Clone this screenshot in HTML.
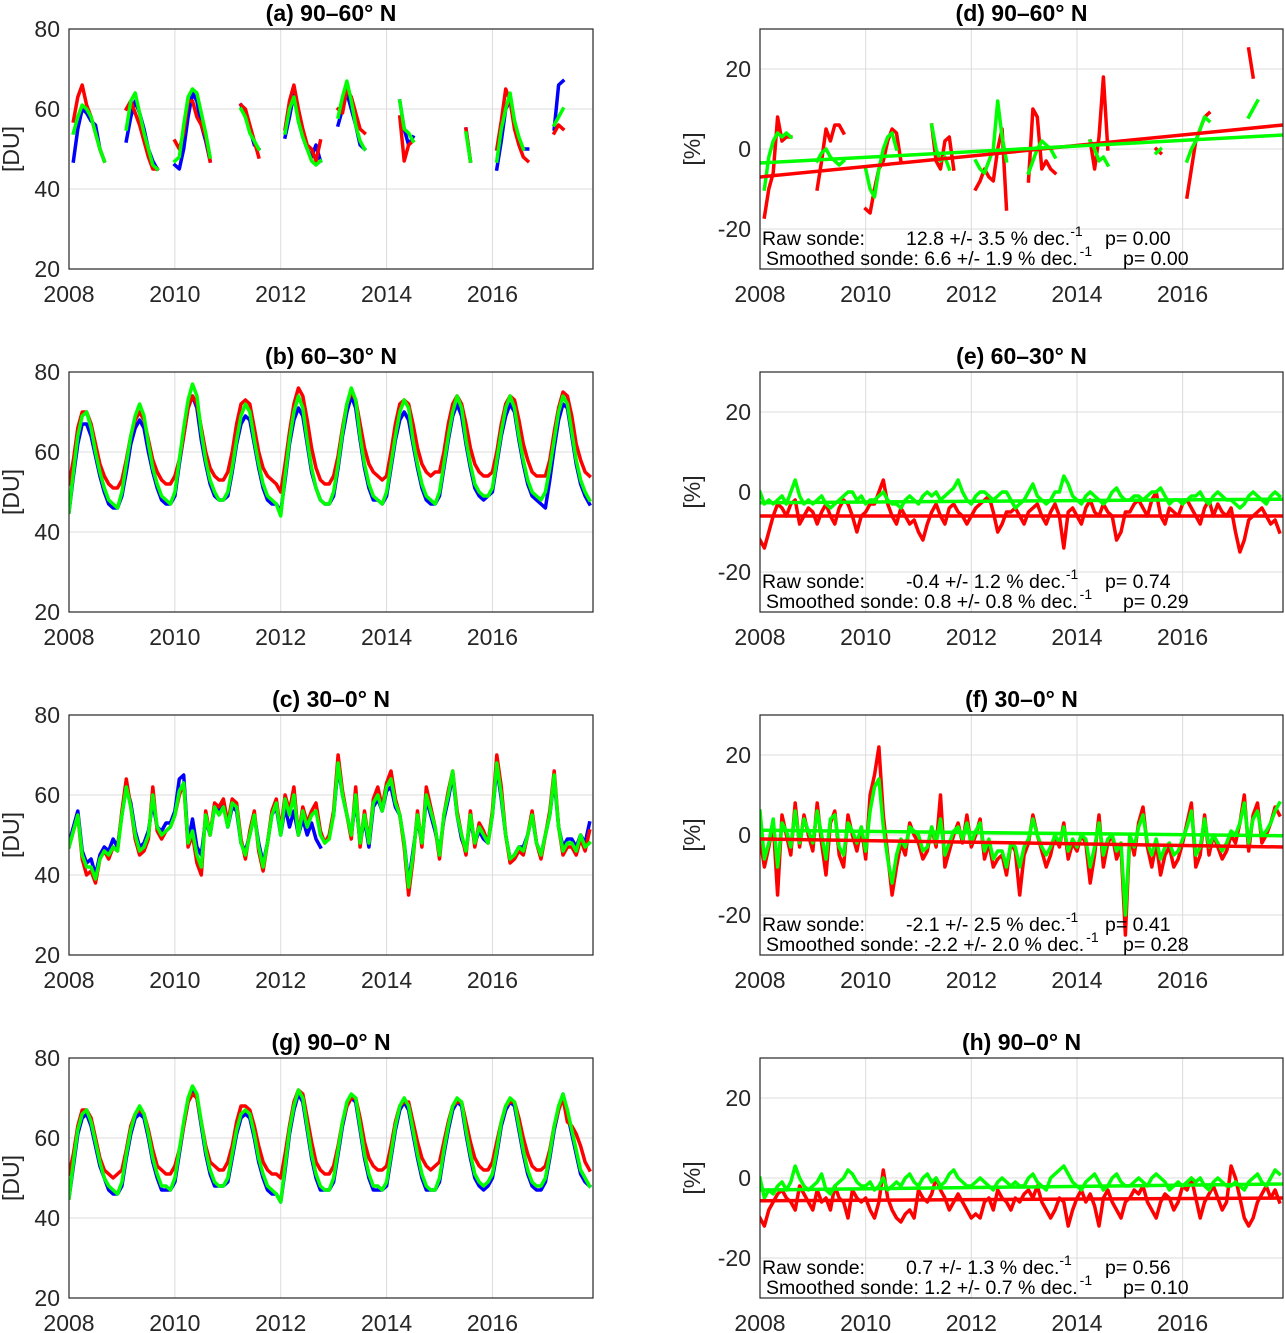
<!DOCTYPE html>
<html><head><meta charset="utf-8"><style>
body{margin:0;background:#fff}
svg{display:block;font-family:"Liberation Sans",Arial,sans-serif}
</style></head><body>
<svg id="fig" width="1285" height="1333" viewBox="0 0 1285 1333" xmlns="http://www.w3.org/2000/svg"></svg>
<script>
// ---- data (monthly, starting Jan 2008) ----
const years = [2008,2010,2012,2014,2016];
const duTicks = [20,40,60,80];
const pctTicks = [-20,0,20];
const N = null;
// panel a 90-60N
const aBlue = [N,47,55,60,59,57,56,50,47,N,N,N, N,52,58,62,59,55,50,47,45,N,N,N, 46,45,50,58,64,62,56,52,47,N,48,N, 47,N,N,61,58,55,51,50,N,N,N,N, N,53,58,64,57,53,50,48,51,47,N,N, N,56,60,64,60,56,51,50,N,N,N,N, N,N,N,62,55,51,53,N,N,N,N,N, N,N,N,N,N,N,55,47,N,N,N,N, N,45,52,60,62,57,52,50,50,N,N,N, N,N,55,66,67,N,N,N,N,N,N];
const aRed = [N,57,63,66,61,58,54,50,47,N,N,N, N,60,62,59,56,52,48,45,45,N,N,N, 52,50,54,62,62,58,56,53,47,N,52,N, 52,N,N,61,60,56,52,48,N,N,N,N, N,55,62,66,60,55,51,50,47,52,N,N, N,60,59,65,63,59,55,54,N,N,N,N, N,N,N,58,47,51,52,N,N,N,N,N, N,N,N,N,N,N,55,47,N,N,N,N, N,50,57,65,62,55,51,48,47,N,N,N, N,N,54,56,55,N,N,N,N,N,N];
const aGreen = [N,54,58,61,60,58,54,50,47,N,N,N, N,55,62,64,59,54,50,46,45,N,N,N, 47,48,56,63,65,64,59,54,48,N,45,N, 48,N,N,60,58,54,52,50,N,N,N,N, N,54,60,63,57,53,50,47,46,47,N,N, N,58,63,67,62,56,52,50,N,N,N,N, N,N,N,62,55,54,52,N,N,N,N,N, N,N,N,N,N,N,54,47,N,N,N,N, N,47,55,60,64,57,53,50,N,N,N,N, N,N,56,58,60,N,N,N,N,N,N];
// panel b 60-30N
const bBlue = [45,54,62,67,67,64,59,54,50,47,46,46, 49,55,62,66,68,66,60,55,51,48,47,47, 49,57,64,71,74,71,63,57,52,49,48,48, 49,55,62,67,69,68,62,56,51,48,47,47, 45,53,62,68,71,69,62,55,51,48,47,47, 49,56,64,70,74,71,63,56,51,48,48,47, 49,56,63,68,70,68,62,56,51,48,47,47, 49,56,63,69,72,69,62,56,51,49,48,49, 50,57,64,69,72,70,63,57,52,49,48,47, 46,53,61,68,72,71,64,57,52,49,47];
const bRed = [52,58,66,70,70,67,62,57,54,52,51,51, 53,58,64,68,70,68,63,58,55,53,52,52, 54,58,64,71,74,72,66,60,56,54,53,53, 55,60,67,72,73,72,66,60,56,54,53,52, 50,57,65,72,76,74,68,61,56,53,52,52, 54,59,66,72,75,73,67,61,57,55,54,53, 54,60,67,72,73,72,67,61,57,55,54,55, 55,60,67,72,74,72,67,61,57,55,54,54, 55,60,67,72,74,73,68,62,58,55,54,54, 54,58,65,71,75,74,69,62,58,55,54];
const bGreen = [45,55,64,69,70,66,60,55,51,48,47,46, 50,57,64,69,72,69,62,56,52,49,48,47, 50,58,66,73,77,74,65,58,53,50,48,48, 50,56,63,69,72,70,63,57,52,49,48,47, 44,54,63,70,74,71,63,56,51,48,47,47, 50,57,65,72,76,73,64,57,52,49,48,47, 50,57,64,70,73,71,63,57,52,49,48,47, 50,57,64,70,74,71,63,57,52,50,49,49, 51,58,65,71,74,71,64,58,53,50,49,48, 50,56,63,70,74,72,65,58,53,50,48];
// panel c 30-0N
const cBlue = [48,52,56,46,43,44,40,45,47,46,49,47, 55,62,58,51,47,48,51,58,52,51,53,53, 56,64,65,48,54,47,45,54,50,57,56,58, 52,57,56,48,46,50,55,48,43,48,55,57, 50,57,52,56,50,54,50,53,49,47,N,N, 55,67,60,55,50,59,48,54,47,57,59,56, 61,62,57,55,48,38,46,54,48,59,55,51, 46,54,59,65,55,49,46,54,48,51,49,48, 55,67,59,50,44,45,47,47,50,55,48,45, 50,55,64,52,47,49,49,47,50,48,53];
const cRed = [47,51,55,44,40,41,38,44,46,44,47,46, 56,64,57,49,45,46,49,62,51,49,51,52, 55,60,63,47,50,43,40,56,50,58,57,59, 53,59,58,49,44,51,56,46,41,48,56,59, 51,60,56,62,50,57,53,56,58,51,48,50, 56,70,61,55,49,62,47,56,48,59,62,57, 63,66,59,55,47,35,44,56,47,62,57,52, 44,55,61,66,56,50,45,56,47,53,51,48, 56,70,62,50,43,44,46,45,50,56,48,44, 50,56,66,52,45,47,47,45,49,46,51];
const cGreen = [47,51,55,45,42,42,39,44,46,45,47,46, 55,62,57,50,46,47,50,60,52,50,51,52, 55,61,63,48,51,45,42,55,50,57,55,57, 52,58,57,48,45,50,55,47,42,48,55,58, 50,59,55,60,50,56,52,55,56,50,48,49, 55,68,60,55,50,60,48,55,48,58,60,56, 62,64,58,55,48,37,45,55,48,60,56,52, 45,55,60,66,55,50,46,55,48,52,50,48, 55,68,60,50,44,45,47,46,50,55,48,45, 50,55,65,52,46,48,48,46,50,47,48];
// panel g 90-0N
const gBlue = [45,53,61,65,66,63,58,53,50,47,46,46, 48,55,61,65,66,65,60,54,50,47,47,47, 49,56,63,69,72,70,63,56,51,48,48,48, 49,55,61,65,66,65,60,54,50,47,46,46, 44,52,61,67,71,69,62,55,50,47,47,47, 49,56,63,68,70,69,62,55,50,47,47,47, 48,55,62,67,69,67,61,55,50,47,47,47, 49,56,62,67,69,68,61,55,50,48,47,48, 50,56,63,67,69,68,62,56,51,48,47,47, 49,55,62,67,71,66,61,56,51,49,48];
const gRed = [51,56,63,67,67,65,60,55,52,51,50,51, 52,57,63,66,67,66,62,57,53,52,51,51, 53,57,63,69,71,70,64,58,54,53,52,52, 54,58,64,68,68,67,63,58,54,52,51,51, 50,56,63,69,72,71,65,59,54,52,51,51, 53,58,64,68,70,70,65,59,55,53,52,52, 53,58,64,68,69,69,64,59,55,53,52,53, 54,59,64,68,69,69,64,59,55,53,52,52, 54,59,64,68,69,69,65,60,56,53,52,52, 53,57,63,67,70,64,63,61,58,54,52];
const gGreen = [45,54,62,66,67,64,59,54,50,48,47,46, 49,56,62,66,68,66,61,55,51,48,48,47, 50,57,64,70,73,71,64,57,52,49,48,48, 50,56,62,66,67,66,61,55,51,48,47,46, 44,53,62,68,72,70,63,56,51,48,47,47, 50,57,64,69,71,70,63,56,51,48,48,47, 49,56,63,68,70,68,62,56,51,48,47,47, 50,57,63,68,70,69,62,56,51,49,48,49, 51,57,64,68,70,69,63,57,52,49,48,48, 50,56,63,68,71,67,62,57,52,50,48];
// panel d (% diff, 90-60N)
const dRed = [N,-17,-10,-6,8,2,3,3,N,N,N,N, N,-10,-3,5,2,6,6,4,N,N,N,N, -15,-16,-10,-5,-3,2,5,4,-3,N,-6,N, 2,N,N,6,-3,-5,2,3,-5,N,N,N, N,-10,-8,-5,-7,-8,0,5,-15,N,N,N, N,-8,10,8,-5,-3,-5,-6,N,N,N,N, N,N,N,2,-5,3,18,0,N,N,N,N, N,N,N,N,N,N,0,-1,N,N,N,N, N,-12,-5,2,5,8,9,N,N,N,N,N, N,N,N,25,18,N,N,N,N,N,N];
const dGreen = [N,-10,-2,2,4,3,4,3,N,N,N,N, N,-3,-1,0,-2,-3,-4,-3,N,N,N,N, -5,-10,-12,-5,0,3,4,0,N,N,7,N, -5,N,N,6,0,-3,-2,-5,N,N,N,N, N,-3,-5,-6,-3,0,12,3,-3,N,N,N, N,-6,-3,0,2,1,0,-2,N,N,N,N, N,N,N,2,0,-3,-2,-4,N,N,N,N, N,N,N,N,N,N,-1,0,N,N,N,N, N,-3,0,2,5,8,7,N,N,N,N,N, N,N,N,8,10,12,N,N,N,N,N];
// panel e
const eRed = [-12,-14,-10,-6,-3,-4,-6,-3,-2,-8,-6,-4, -5,-8,-5,-3,-6,-8,-4,-2,-3,-6,-10,-6, -5,-3,-3,0,3,-3,-6,-8,-4,-6,-8,-7, -10,-12,-8,-5,-3,-6,-8,-4,-3,-5,-6,-8, -6,-4,-3,-2,-1,-5,-10,-8,-5,-5,-4,-6, -8,-5,-4,-3,-6,-8,-5,-3,-6,-14,-5,-4, -6,-8,-4,-2,-5,-6,-3,-5,-6,-12,-10,-5, -5,-3,-2,-4,-6,-2,0,-6,-8,-4,-5,-6, -3,-2,-4,-6,-8,-4,-2,-6,-3,-5,-6,-4, -10,-15,-12,-7,-6,-5,-4,-6,-8,-7,-10];
const eGreen = [0,-3,-2,-3,-2,-1,-3,0,3,-1,-3,-2, -3,-2,-1,-3,-4,-3,-2,-1,0,0,-2,-1, -3,-2,-2,-1,0,-2,-3,-3,-4,-2,-1,-2, -3,-1,0,-1,0,-2,-1,0,1,3,0,-2, -3,-1,0,0,-1,-2,-1,0,0,-2,-4,-3, -2,0,2,-1,-2,-3,-2,0,0,4,2,-1, -2,-3,-1,0,-1,-2,-3,-2,0,1,-1,-2, -2,-1,-1,-2,-1,0,0,1,-1,-3,-2,-2, -3,-2,-1,-1,0,-2,-3,-1,0,-1,-2,-2, -3,-4,-3,-1,0,-1,-2,-3,-1,0,-1];
// panel f
const fRed = [-1,-8,-3,3,-15,5,0,-5,8,-3,5,0, -4,8,-2,-10,3,6,-5,-8,5,0,-4,2, -6,10,15,22,5,-5,-15,-8,-2,-5,3,0, -2,-6,-4,2,-3,10,-8,-4,0,3,-2,5, -3,0,4,-6,-2,-8,-6,-5,-10,-2,-4,-15, -5,-2,5,0,-4,-8,-5,0,-3,3,-6,-2, -4,0,-2,-12,-5,5,-8,-2,0,-6,-3,-25, 0,-5,3,7,-3,-8,-2,-10,-5,-3,-8,-6, -2,3,8,-8,-5,5,-5,0,-3,-6,-4,0, -2,3,10,-4,5,8,-2,0,3,7,5];
const fGreen = [6,-6,-2,4,-8,3,1,-3,6,-2,4,1, -2,6,0,-6,4,5,-3,-5,3,1,-2,2, -4,6,12,14,2,-6,-12,-5,-1,-3,2,1, 0,-4,-3,2,-2,4,-5,-2,1,2,-1,3, -2,1,3,-4,-1,-6,-4,-4,-8,-2,-3,-8, -3,-1,4,0,-3,-5,-3,0,-2,2,-4,-1, -3,0,-1,-8,-3,3,-5,-1,0,-4,-2,-20, 0,-3,2,5,-2,-5,-1,-6,-3,-2,-5,-4, -1,2,6,-5,-3,4,-3,0,-2,-4,-2,1, 0,3,8,-2,4,6,0,1,3,6,8];
// panel h
const hRed = [-10,-12,-8,-6,-4,-3,-5,-6,-8,-2,-4,-6, -8,-3,-6,-5,-8,-2,-5,-6,-10,-3,-5,-6, -5,-8,-10,-6,2,-5,-8,-10,-11,-9,-8,-10, -3,-5,-6,-4,0,-3,-5,-8,-6,-4,-6,-8, -10,-9,-10,-6,-5,-8,-3,-5,-6,-8,-5,-6, -4,-3,-5,-2,-6,-8,-10,-8,-5,-6,-12,-8, -5,-3,-6,-4,-7,-12,-5,-3,-6,-8,-10,-6, -5,-3,-4,-2,-6,-8,-10,-6,-4,-5,-8,-6, -2,-3,0,-5,-10,-6,-4,-2,-5,-8,-6,3, 0,-5,-10,-12,-10,-6,-4,-2,-5,-3,-6];
const hGreen = [0,-5,-3,-4,-2,-1,-3,-1,3,0,-2,-3, -2,-1,1,-3,-4,-2,-1,0,2,1,-1,-2, -2,-1,-3,-2,0,-3,-2,-1,-2,0,1,-1, -2,0,1,-1,0,-2,-1,1,2,0,-1,-2, -2,-1,0,-1,-2,-3,-1,0,-1,-2,-1,-2, -2,0,1,-1,-2,-3,0,1,2,3,1,-1, -2,-3,-1,0,1,-1,-3,-2,0,1,-1,-2, -2,-1,0,-1,-2,0,1,0,-1,-3,-2,-1, -2,-1,0,-1,0,-2,-3,-1,0,-1,-2,-2, -1,-2,-3,-1,0,1,-1,-2,0,2,1];
// trend endpoints (at 2008.0 and 2017.9)
const dTrendRed = [-7,6], dTrendGreen = [-3.5,3.5];
const eTrendRed = [-6,-6], eTrendGreen = [-2.7,-1.8];
const fTrendRed = [-1,-3], fTrendGreen = [1.2,-0.2];
const hTrendRed = [-5.7,-5], hTrendGreen = [-3,-1.5];

// ---- drawing ----
const svg = document.getElementById('fig');
const NS = 'http://www.w3.org/2000/svg';
const X0 = 2008, X1 = 2017.9;
function mk(tag, attrs, parent){const e=document.createElementNS(NS,tag);for(const k in attrs)e.setAttribute(k,attrs[k]);(parent||svg).appendChild(e);return e;}

function panel(p){
  const g = mk('g',{});
  
  
  const L=p.x, T=p.y, W=p.w, H=240;
  const sx = t => L + (t - X0)/(X1 - X0)*W;
  const sy = v => T + H - (v - p.ymin)/(p.ymax - p.ymin)*H;
  // grid
  years.forEach(yr=>{
    const gl = mk('line',{x1:sx(yr),x2:sx(yr),y1:T,y2:T+H,stroke:'#dcdcdc','stroke-width':1},g);
    
    
    const tk = mk('text',{x:sx(yr),y:T+H+33,'font-size':23,'text-anchor':'middle',fill:'#262626'},g);
    tk.textContent = yr;
    
    
  });
  p.ticks.forEach(v=>{
    const gl = mk('line',{x1:L,x2:L+W,y1:sy(v),y2:sy(v),stroke:'#dcdcdc','stroke-width':1},g);
    
    
    const tk = mk('text',{x:L-9,y:sy(v)+8,'font-size':23,'text-anchor':'end',fill:'#262626'},g);
    tk.textContent = v;
    
    
  });
  // series
  const clip = 'clip-'+p.name;
  const cp = mk('clipPath',{id:clip},g); mk('rect',{x:L,y:T,width:W,height:H},cp);
  p.series.forEach(s=>{
    let d='', pen=false;
    s.data.forEach((v,i)=>{
      if(v===null){pen=false;return;}
      const t = X0 + i/12;
      d += (pen?'L':'M') + sx(t).toFixed(1)+','+sy(v).toFixed(1);
      pen=true;
    });
    const path = mk('path',{d:d,fill:'none',stroke:s.color,'stroke-width':3.5,'stroke-linejoin':'round','stroke-linecap':'square','clip-path':'url(#'+clip+')'},g);
    
    
  });
  (p.trends||[]).forEach(tr=>{
    const ln = mk('line',{x1:sx(X0),y1:sy(tr.v[0]),x2:sx(X1),y2:sy(tr.v[1]),stroke:tr.color,'stroke-width':3.5},g);
    
    
  });
  // frame
  const fr = mk('rect',{x:L,y:T,width:W,height:H,fill:'none',stroke:'#262626','stroke-width':1.2},g);
  
  
  // title
  const ti = mk('text',{x:L+W/2,y:T-8,'font-size':23,'font-weight':'bold','text-anchor':'middle',fill:'#000'},g);
  ti.textContent = p.title;
  
  
  // y label
  const yl = mk('text',{x:0,y:0,'font-size':23,'text-anchor':'middle',fill:'#262626',transform:'translate('+(p.ylabX)+','+(T+H/2)+') rotate(-90)'},g);
  yl.textContent = p.ylabel;
  
  
  // stats
  if(p.stats){
    const s1 = mk('text',{'font-size':19.5,fill:'#000'},g);
    
    
    s1.innerHTML = '<tspan x="762" y="'+(T+H-24)+'">Raw sonde:</tspan><tspan x="906">'+p.stats[0]+' % dec.</tspan><tspan dy="-9" font-size="14">-1</tspan><tspan x="1105" dy="9">p= '+p.stats[1]+'</tspan>';
    const s2 = mk('text',{'font-size':19.5,fill:'#000'},g);
    
    
    s2.innerHTML = '<tspan x="766" y="'+(T+H-4)+'">Smoothed sonde: '+p.stats[2]+' % dec.</tspan><tspan dx="2" dy="-9" font-size="14">-1</tspan><tspan x="1123" dy="9">p= '+p.stats[3]+'</tspan>';
  }
}
const rows=[29,372,715,1058];
const leftP = [['panel-a','(a) 90\u201360\u00b0 N',aBlue,aRed,aGreen],['panel-b','(b) 60\u201330\u00b0 N',bBlue,bRed,bGreen],['panel-c','(c) 30\u20130\u00b0 N',cBlue,cRed,cGreen],['panel-g','(g) 90\u20130\u00b0 N',gBlue,gRed,gGreen]];
leftP.forEach((q,i)=>panel({name:q[0],title:q[1],x:69,y:rows[i],w:524,ymin:20,ymax:80,ticks:duTicks,ylabel:'[DU]',ylabX:19,
  series:[{data:q[2],color:'#0000ff',label:'blue-series'},{data:q[3],color:'#ff0000',label:'red-series'},{data:q[4],color:'#00ff00',label:'green-series'}]}));
const rightP = [['panel-d','(d) 90\u201360\u00b0 N',dRed,dGreen,dTrendRed,dTrendGreen,['12.8 +/- 3.5','0.00','6.6 +/- 1.9','0.00']],
 ['panel-e','(e) 60\u201330\u00b0 N',eRed,eGreen,eTrendRed,eTrendGreen,['-0.4 +/- 1.2','0.74','0.8 +/- 0.8','0.29']],
 ['panel-f','(f)  30\u20130\u00b0 N',fRed,fGreen,fTrendRed,fTrendGreen,['-2.1 +/- 2.5','0.41','-2.2 +/- 2.0','0.28']],
 ['panel-h','(h)  90\u20130\u00b0 N',hRed,hGreen,hTrendRed,hTrendGreen,['0.7 +/- 1.3','0.56','1.2 +/- 0.7','0.10']]];
rightP.forEach((q,i)=>panel({name:q[0],title:q[1],x:760,y:rows[i],w:523,ymin:-30,ymax:30,ticks:pctTicks,ylabel:'[%]',ylabX:700,
  series:[{data:q[2],color:'#ff0000',label:'raw-diff-series'},{data:q[3],color:'#00ff00',label:'smoothed-diff-series'}],
  trends:[{v:q[4],color:'#ff0000',label:'raw-trend-line'},{v:q[5],color:'#00ff00',label:'smoothed-trend-line'}],stats:q[6]}));
</script>
</body></html>
